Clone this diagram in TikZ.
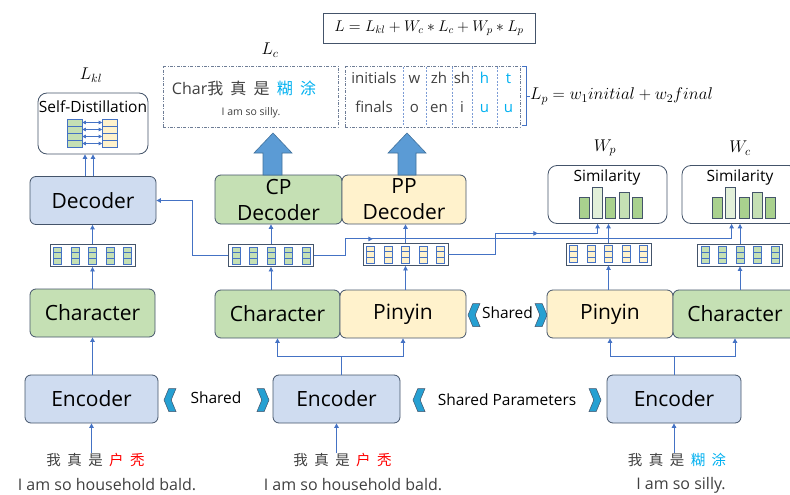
\documentclass[tikz,border=0pt]{standalone}
\usepackage{fix-cm}
\usepackage{fontspec}
\setmainfont{Open Sans}
\newfontfamily\cjk[WordSpace=2]{Noto Sans CJK SC}
\usepackage{tikz}
\usetikzlibrary{arrows.meta, positioning, calc, decorations.markings}
\definecolor{encblue}{RGB}{207, 220, 240}
\definecolor{chargreen}{RGB}{197, 224, 180}
\definecolor{pyyellow}{RGB}{255, 242, 204}
\definecolor{edgegray}{RGB}{68, 84, 106}
\definecolor{linkblue}{RGB}{68, 114, 196}
\definecolor{arrowblue}{RGB}{91, 155, 213}
\definecolor{arrowedge}{RGB}{65, 113, 156}
\definecolor{chevcyan}{RGB}{38, 160, 210}
\definecolor{hlcyan}{RGB}{0, 176, 240}
\definecolor{txtgray}{RGB}{64, 64, 64}
\definecolor{bargreen}{RGB}{169, 209, 142}
\definecolor{barlight}{RGB}{226, 240, 217}
\definecolor{dashgray}{RGB}{110, 125, 150}
\tikzset{
    module/.style={rectangle, draw=edgegray, line width=0.8pt, rounded corners=6pt, minimum height=48pt, inner sep=0pt, font=\fontsize{21}{26}\selectfont},
    encoder/.style={module, fill=encblue},
    charmod/.style={module, fill=chargreen},
    pymod/.style={module, fill=pyyellow},
    panel/.style={rectangle, draw=edgegray, line width=0.8pt, rounded corners=9pt, fill=white, inner sep=0pt},
    vecbox/.style={rectangle, draw=edgegray, line width=0.9pt, fill=white, minimum width=85pt, minimum height=22pt, inner sep=0pt},
    cell/.style={rectangle, draw=linkblue, line width=0.6pt, minimum width=8pt, minimum height=5.6pt, inner sep=0pt},
    link/.style={draw, color=linkblue, line width=0.9pt, -{Triangle[length=4.5pt, width=4.5pt]}},
    midtip/.style={postaction={decorate}, decoration={markings, mark=at position #1 with {\arrow{Triangle[length=4.5pt, width=4.5pt]}}}},
    hollow/.style={rectangle, draw=dashgray, line width=0.7pt, dash pattern=on 3pt off 1.5pt on 0.8pt off 1.5pt, inner sep=0pt},
    sep/.style={draw=linkblue!70, line width=0.7pt, dash pattern=on 2pt off 1.5pt},
    chev/.style={fill=chevcyan, draw=edgegray, line width=0.5pt},
    bigarrow/.style={fill=arrowblue, draw=arrowedge, line width=0.6pt},
    bar/.style={draw=edgegray, line width=0.7pt},
    lbl/.style={font=\fontsize{15.5}{18}\selectfont, inner sep=0pt},
    mlbl/.style={font=\fontsize{17}{20}\selectfont, inner sep=0pt},
    tab/.style={font=\fontsize{15}{18}\selectfont, inner sep=0pt, text height=11pt, text depth=3pt, text=txtgray},
    cn/.style={font=\cjk\fontsize{14.5}{17}\selectfont, text=txtgray, inner sep=0pt},
    en/.style={font=\fontsize{16}{19}\selectfont, text=txtgray, inner sep=0pt}
}

% feature vector: name, centre, cell colour
\newcommand{\featvec}[3]{%
    \node[vecbox] (#1) at (#2) {};
    \foreach \col in {-2,...,2}
        \foreach \row in {-1,0,1}
            \node[cell, fill=#3] at ($(#1.center)+(\col*17.5,\row*5.6)$) {};
}

% chevron: x, y, direction (1 right, -1 left)
\newcommand{\chevron}[3]{%
    \begin{scope}[shift={(#1,#2)}, xscale=#3]
        \draw[chev] (-6,-11.5) -- (1.2,-11.5) -- (6,0) -- (1.2,11.5) -- (-6,11.5) -- (-1.2,0) -- cycle;
    \end{scope}
}

\begin{document}
\begin{tikzpicture}[x=1pt, y=-1pt]
    \useasboundingbox (0,0) rectangle (790,495);

    % Encoders and inputs
    \node[encoder, minimum width=133pt] (encL) at (91.5,399) {Encoder};
    \node[encoder, minimum width=127pt] (encM) at (336.5,399) {Encoder};
    \node[encoder, minimum width=134pt] (encR) at (674,399) {Encoder};

    \node[cn] (inL) at (95.5,460) {我 真 是 \textcolor{red}{户 秃}};
    \node[en] (trL) at (107,485) {I am so household bald.};
    \node[cn] (inM) at (342.5,460) {我 真 是 \textcolor{red}{户 秃}};
    \node[en] (trM) at (353,485) {I am so household bald.};
    \node[cn] (inR) at (677,460) {我 真 是 \textcolor{hlcyan}{糊 涂}};
    \node[en] (trR) at (681,485) {I am so silly.};

    \draw[link] (inL.north -| encL) -- (encL.south);
    \draw[link] (inM.north -| encM) -- (encM.south);
    \draw[link] (inR.north -| encR) -- (encR.south);

    % Shared labels
    \chevron{170}{400}{-1}
    \node[lbl] (shA) at (216,398) {Shared};
    \chevron{263}{400}{1}
    \chevron{419}{400}{-1}
    \node[lbl] (shB) at (507,400) {Shared Parameters};
    \chevron{595}{400}{1}
    \chevron{474}{315}{-1}
    \node[lbl] (shC) at (507.5,313) {Shared};
    \chevron{541}{315}{1}

    % Character / Pinyin modules
    \node[charmod, minimum width=125pt] (charL) at (92.5,313) {Character};
    \node[charmod, minimum width=125pt] (charM) at (277.5,314) {Character};
    \node[pymod, minimum width=126pt] (pyM) at (403,314) {Pinyin};
    \node[pymod, minimum width=126pt] (pyR) at (610,314) {Pinyin};
    \node[charmod, minimum width=124pt] (charR) at (735,314) {Character};

    \draw[link] (encL.north -| charL.south) -- (charL.south);
    \coordinate (forkM) at ($(encM.north)+(4.5,-18)$);
    \draw[link] (encM.north -| forkM) -- (forkM) -| (charM.south);
    \draw[link] (forkM) -| (pyM.south);
    \coordinate (forkR) at ($(encR.north)+(0,-18)$);
    \draw[link] (encR.north) -- (forkR) -| (pyR.south);
    \draw[link] (forkR) -| (charR.south);

    % Hidden vectors
    \featvec{vecL}{92.5,255.5}{chargreen}
    \featvec{vecC}{271,255.5}{chargreen}
    \featvec{vecP}{405.5,254.5}{pyyellow}
    \featvec{vecPR}{608.5,254}{pyyellow}
    \featvec{vecCR}{740,255}{chargreen}

    \draw[link] (vecL.south |- charL.north) -- (vecL.south);
    \draw[link] (vecC.south |- charM.north) -- (vecC.south);
    \draw[link] (vecP.south |- pyM.north) -- (vecP.south);
    \draw[link] (vecPR.south |- pyR.north) -- (vecPR.south);
    \draw[link] (vecCR.south |- charR.north) -- (vecCR.south);

    % Decoders
    \node[encoder, minimum width=126pt] (dec) at (93,200.5) {Decoder};
    \node[charmod, minimum width=127pt, minimum height=49pt, align=center] (cpdec) at (278.5,199.5) {CP\\Decoder};
    \node[pymod, minimum width=124pt, minimum height=49pt, align=center] (ppdec) at (404,199.5) {PP\\Decoder};

    \draw[link] (vecL.north) -- (vecL.north |- dec.south);
    \draw[link] (vecC.north) -- (vecC.north |- cpdec.south);
    \draw[link] (vecP.north) -- (vecP.north |- ppdec.south);
    \draw[link] (vecC.west) -- ++(-36,0) |- (dec.east);

    % Similarity panels
    \node[panel, minimum width=119pt, minimum height=58pt] (simP) at (607.5,194.5) {};
    \node[lbl] (simPtxt) at (607,177) {Similarity};
    \node[panel, minimum width=116pt, minimum height=58pt] (simC) at (740,194.5) {};
    \node[lbl] (simCtxt) at (740,177) {Similarity};
    \foreach \b/\h/\c in {0/21/bargreen, 1/31/barlight, 2/21/bargreen, 3/26/chargreen, 4/21/bargreen} {
        \draw[bar, fill=\c] ($(simP.south west)+(32+\b*13.1,-6)$) rectangle ++(10,-\h);
        \draw[bar, fill=\c] ($(simC.south west)+(31+\b*13.2,-6)$) rectangle ++(10,-\h);
    }
    \node[mlbl] (wp) at (605,148) {$W_p$};
    \node[mlbl] (wc) at (740,148) {$W_c$};

    \draw[link] (vecPR.north) -- (vecPR.north |- simP.south);
    \draw[link] (vecCR.north) -- (vecCR.north |- simC.south);
    \draw[link, midtip=110.5pt] (vecP.east) -- ++(47,0) |- ($(simP.south west)+(50,9.5)$) -- ($(simP.south west)+(50,0)$);
    \draw[link, midtip=75.5pt] (vecC.east) -- ++(31,0) |- ($(simC.south west)+(50,15)$) -- ($(simC.south west)+(50,0)$);

    % Self-distillation
    \node[panel, minimum width=110pt, minimum height=61pt] (sd) at (93,123.5) {};
    \node[lbl] (sdtxt) at (93,107) {Self-Distillation};
    \foreach \r in {0,...,3} {
        \node[cell, fill=chargreen, minimum width=15pt, minimum height=7pt] (g\r) at (74.5,122.5+\r*7) {};
        \node[cell, fill=pyyellow, minimum width=15pt, minimum height=7pt] (y\r) at (110,122.5+\r*7) {};
        \draw[color=linkblue, line width=0.8pt, {Triangle[length=3.5pt, width=3.5pt]}-{Triangle[length=3.5pt, width=3.5pt]}] (g\r.east) -- (y\r.west);
    }
    \node[mlbl] (lkl) at (91,75) {$L_{kl}$};
    \draw[link] ($(dec.north)+(-8,0)$) -- ($(sd.south)+(-8,0)$);
    \draw[link] (dec.north) -- (sd.south);

    % Outputs
    \draw[bigarrow] (263,175) -- (263,153) -- (254,153) -- (273,133) -- (292,153) -- (282,153) -- (282,175) -- cycle;
    \draw[bigarrow] (398,175) -- (398,153) -- (388,153) -- (407,133) -- (426,153) -- (416,153) -- (416,175) -- cycle;

    \node[hollow, minimum width=175pt, minimum height=61pt] (charout) at (250.5,96.5) {};
    \node[font=\fontsize{16}{19}\selectfont, text=txtgray, inner sep=0pt] (chartxt) at (244,88) {Char{\cjk 我 真 是 \textcolor{hlcyan}{糊 涂}}};
    \node[font=\fontsize{10.5}{12}\selectfont, text=txtgray, inner sep=0pt] (chartr) at (251,113) {I am so silly.};
    \node[mlbl] (lc) at (270,50) {$L_c$};

    \node[hollow, minimum width=175pt, minimum height=61pt] (pyout) at (432.5,96.5) {};
    \foreach \sx in {403,426,452,472,497}
        \draw[sep] (\sx,67) -- (\sx,126);
    \foreach \cx/\ti/\tf in {374/initials/finals, 414.5/w/o, 439/zh/en, 462/sh/i} {
        \node[tab] at (\cx,80) {\ti};
        \node[tab] at (\cx,108) {\tf};
    }
    \foreach \cx/\ti/\tf in {484.5/h/u, 508.5/t/u} {
        \node[tab, text=hlcyan] at (\cx,80) {\ti};
        \node[tab, text=hlcyan] at (\cx,108) {\tf};
    }
    \draw[color=linkblue, line width=1pt] (522,67) -- (526,67) -- (526,125) -- (522,125);
    \draw[color=linkblue, line width=1pt] (526,96) -- (530,96);
    \node[mlbl, anchor=west] (lpeq) at (530,96) {$L_p = w_1 initial + w_2 final$};

    % Total loss
    \node[lbl, draw=edgegray, line width=0.9pt, minimum width=212pt, minimum height=30pt] (loss) at (429,28) {$L = L_{kl} + W_c * L_c + W_p * L_p$};
\end{tikzpicture}
\end{document}
